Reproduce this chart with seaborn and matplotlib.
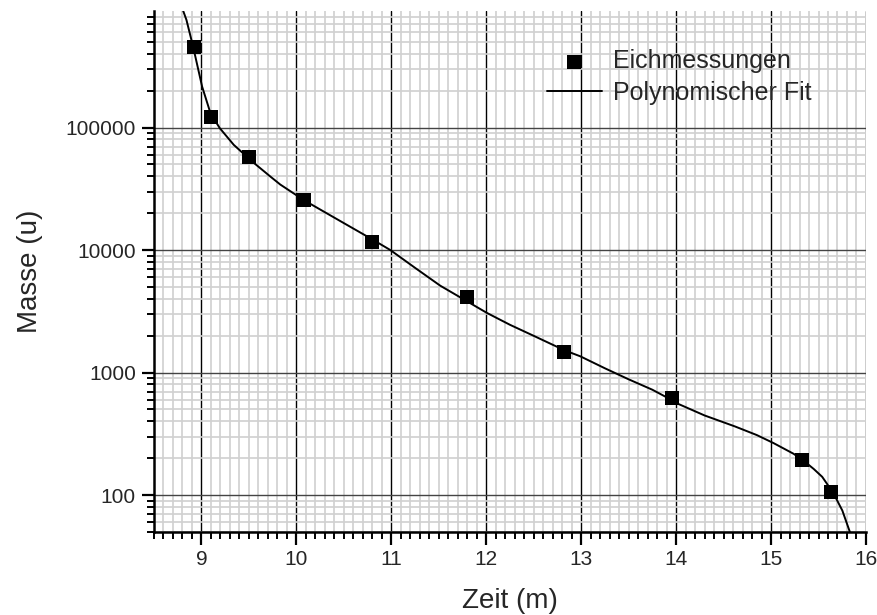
import numpy as np
import pandas as pd
import matplotlib
matplotlib.use("Agg")
import matplotlib.pyplot as plt
from matplotlib.ticker import MultipleLocator, FixedLocator, LogLocator, NullFormatter, FuncFormatter
import seaborn as sns

# Calibration measurements: elution time (min) vs. mass (u)
zeit = [8.926, 9.105, 9.505, 10.08, 10.80, 11.797, 12.824, 13.955, 15.33, 15.63]
masse = [457000, 122900, 58000, 25400, 11700, 4110, 1465, 622, 193, 106]

# Polynomial fit curve, sampled points (time, log10 of mass)
fit_zeit = [8.79, 8.842, 8.912, 9.007, 9.095, 9.193, 9.34, 9.534, 9.726, 9.83,
            10.08, 10.5, 10.80, 10.99, 11.25, 11.516, 11.797, 12.007, 12.25, 12.5,
            12.824, 12.99, 13.25, 13.5, 13.75, 13.944, 14.015, 14.3, 14.618, 14.85,
            15.025, 15.238, 15.344, 15.45, 15.539, 15.656, 15.751, 15.83]
fit_log = [5.99, 5.878, 5.660, 5.334, 5.117, 4.995, 4.859, 4.723, 4.600, 4.535,
           4.407, 4.22, 4.087, 4.0, 3.855, 3.709, 3.582, 3.487, 3.39, 3.30,
           3.182, 3.133, 3.035, 2.945, 2.86, 2.780, 2.747, 2.65, 2.561, 2.49,
           2.425, 2.337, 2.280, 2.213, 2.149, 2.017, 1.874, 1.70]

punkte = pd.DataFrame({"Zeit": zeit, "Masse": masse})
kurve = pd.DataFrame({"Zeit": fit_zeit, "Masse": np.power(10.0, fit_log)})

sns.set_style("white")
plt.rcParams["font.family"] = ["Liberation Sans", "DejaVu Sans"]

fig = plt.figure(figsize=(8.78, 6.15), dpi=100)
ax = fig.add_axes([0.1754, 0.135, 0.8109, 0.847])

sns.lineplot(data=kurve, x="Zeit", y="Masse", ax=ax, color="black", lw=1.4,
             sort=False, estimator=None, label="Polynomischer Fit", zorder=4)
sns.scatterplot(data=punkte, x="Zeit", y="Masse", ax=ax, color="black", marker="s",
                s=95, edgecolor="black", linewidth=0, label="Eichmessungen", zorder=5)

ax.set_yscale("log")
ax.set_xlim(8.5, 16)
ax.set_ylim(50, 8.93e5)

ax.xaxis.set_major_locator(MultipleLocator(1))
ax.xaxis.set_minor_locator(MultipleLocator(0.1))
ax.yaxis.set_major_locator(FixedLocator([100, 1000, 10000, 100000]))
ax.yaxis.set_minor_locator(LogLocator(base=10, subs=np.arange(2, 10)))
ax.yaxis.set_minor_formatter(NullFormatter())
ax.yaxis.set_major_formatter(FuncFormatter(lambda v, p: f"{int(round(v))}"))

ax.grid(which="minor", axis="both", color="#d0d0d0", lw=1.2, zorder=0)
ax.grid(which="major", axis="x", color="black", lw=1.0, zorder=1)
ax.grid(which="major", axis="y", color="#444444", lw=1.0, zorder=1)
ax.set_axisbelow(True)

for side in ("top", "right"):
    ax.spines[side].set_visible(False)
for side in ("left", "bottom"):
    ax.spines[side].set_linewidth(1.8)
    ax.spines[side].set_color("black")

ax.tick_params(which="major", direction="out", length=9, width=1.6, labelsize=15,
               color="black", left=True, bottom=True, pad=4)
ax.tick_params(which="minor", direction="out", length=5, width=1.4, color="black",
               left=True, bottom=True)

ax.set_xlabel("Zeit (m)", fontsize=20, labelpad=14)
ax.set_ylabel("Masse (u)", fontsize=20, labelpad=16)

handles, labels = ax.get_legend_handles_labels()
order = [labels.index("Eichmessungen"), labels.index("Polynomischer Fit")]
leg = ax.legend([handles[i] for i in order], [labels[i] for i in order],
                loc="upper right", bbox_to_anchor=(0.955, 0.97), frameon=False,
                fontsize=18, handlelength=2.2, handletextpad=0.45, labelspacing=0.32)

fig.savefig("out.png", dpi=100)
